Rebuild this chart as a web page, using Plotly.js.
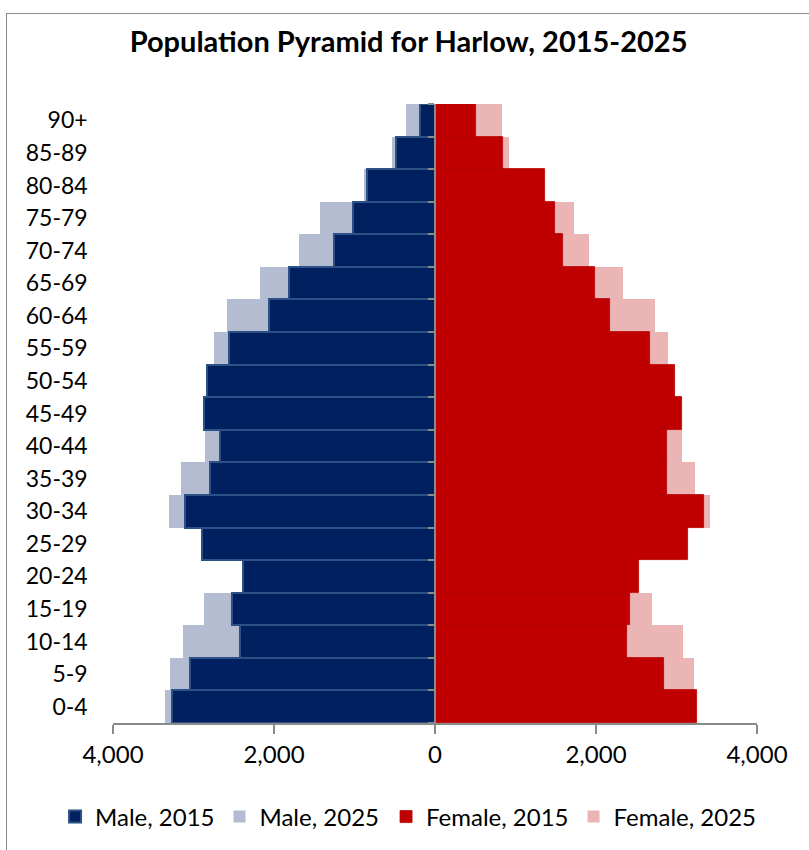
<!DOCTYPE html>
<html>
<head>
<meta charset="utf-8">
<script src="https://cdn.plot.ly/plotly-3.0.1.min.js"></script>
<style>
  html, body { margin: 0; padding: 0; background: #ffffff; }
  #frame {
    position: absolute; left: 6px; top: 13px; width: 900px; height: 900px;
    border-left: 1.5px solid #8a8a8a; border-top: 1.5px solid #8a8a8a;
  }
  #chart { position: absolute; left: 0; top: 0; width: 809px; height: 850px; }
</style>
</head>
<body>
<div id="frame"></div>
<div id="chart"></div>
<script>
// Five-year age bands, youngest first (category axis stacks bottom-up)
const ageGroups = ['0-4', '5-9', '10-14', '15-19', '20-24', '25-29', '30-34', '35-39', '40-44',
  '45-49', '50-54', '55-59', '60-64', '65-69', '70-74', '75-79', '80-84', '85-89', '90+'];

// Population counts per band
const male2015 = [3270, 3045, 2425, 2525, 2380, 2900, 3110, 2795, 2670, 2875, 2835, 2565, 2065, 1815, 1260, 1020, 845, 485, 185];
const male2025 = [3355, 3295, 3125, 2865, 2300, 2850, 3310, 3155, 2860, 2800, 2750, 2745, 2585, 2175, 1695, 1430, 885, 535, 355];
const female2015 = [3250, 2845, 2385, 2420, 2540, 3140, 3345, 2885, 2880, 3065, 2980, 2675, 2180, 1985, 1585, 1485, 1365, 840, 515];
const female2025 = [3200, 3215, 3075, 2700, 2450, 3050, 3410, 3225, 3065, 3000, 2950, 2895, 2730, 2340, 1910, 1725, 1340, 915, 830];

// Axis ticks
const xTickVals = [-4000, -2000, 0, 2000, 4000];
const xTickText = ['4,000', '2,000', '0', '2,000', '4,000'];

const FONT = 'Lato, "Open Sans", sans-serif';
const neg = arr => arr.map(v => -v);

// Male series share one legend row block, female series another
const traces = [
  {
    type: 'bar', orientation: 'h', name: 'Male, 2025', legend: 'legend', legendrank: 2,
    y: ageGroups, x: neg(male2025), customdata: male2025,
    marker: { color: '#b3bcd1', line: { width: 0 } },
    hovertemplate: '%{y}: %{customdata:,}<extra>Male, 2025</extra>'
  },
  {
    type: 'bar', orientation: 'h', name: 'Male, 2015', legend: 'legend', legendrank: 1,
    y: ageGroups, x: neg(male2015), customdata: male2015,
    marker: { color: '#002060', line: { color: '#2b5186', width: 2 } },
    hovertemplate: '%{y}: %{customdata:,}<extra>Male, 2015</extra>'
  },
  {
    type: 'bar', orientation: 'h', name: 'Female, 2025', legend: 'legend2', legendrank: 2,
    y: ageGroups, x: female2025,
    marker: { color: '#ebb4b5', line: { width: 0 } },
    hovertemplate: '%{y}: %{x:,}<extra>Female, 2025</extra>'
  },
  {
    type: 'bar', orientation: 'h', name: 'Female, 2015', legend: 'legend2', legendrank: 1,
    y: ageGroups, x: female2015,
    marker: { color: '#c00000', line: { color: '#b80000', width: 0.8 } },
    hovertemplate: '%{y}: %{x:,}<extra>Female, 2015</extra>'
  }
];

const legendStyle = {
  orientation: 'h', xanchor: 'left', y: -0.15, yanchor: 'middle',
  font: { family: FONT, size: 24, color: '#000000' },
  traceorder: 'normal', itemwidth: 30, bgcolor: 'rgba(0,0,0,0)'
};

const layout = {
  width: 809, height: 850,
  margin: { l: 113, r: 52, t: 104, b: 126 },
  paper_bgcolor: 'rgba(0,0,0,0)',
  plot_bgcolor: 'rgba(0,0,0,0)',
  font: { family: FONT, color: '#000000', size: 22 },
  title: {
    text: '<b>Population Pyramid for Harlow, 2015-2025</b>',
    font: { family: FONT, size: 29, color: '#000000' },
    x: 0.505, xanchor: 'center', y: 0.951, yanchor: 'middle'
  },
  barmode: 'overlay',
  bargap: 0,
  showlegend: true,
  legend: Object.assign({}, legendStyle, { x: -0.09 }),
  legend2: Object.assign({}, legendStyle, { x: 0.424 }),
  xaxis: {
    range: [-4000, 4000],
    tickvals: xTickVals, ticktext: xTickText, tickangle: 0,
    showgrid: false, zeroline: false,
    showline: true, linecolor: '#8a8a8a', linewidth: 1.5,
    ticks: 'outside', ticklen: 9, tickcolor: '#8a8a8a', tickwidth: 1.5,
    tickfont: { family: FONT, size: 24 }
  },
  yaxis: {
    type: 'category', categoryorder: 'array', categoryarray: ageGroups,
    range: [-0.5, ageGroups.length - 0.5],
    anchor: 'free', position: 0.5,
    showgrid: false, zeroline: false,
    showline: true, linecolor: '#8a8a8a', linewidth: 1.5,
    ticks: 'outside', tickson: 'boundaries', ticklen: 6, tickcolor: '#8a8a8a', tickwidth: 1.5,
    ticklabelstandoff: 342,
    tickfont: { family: FONT, size: 23 }
  }
};

Plotly.newPlot('chart', traces, layout, { displayModeBar: false });
</script>
</body>
</html>
